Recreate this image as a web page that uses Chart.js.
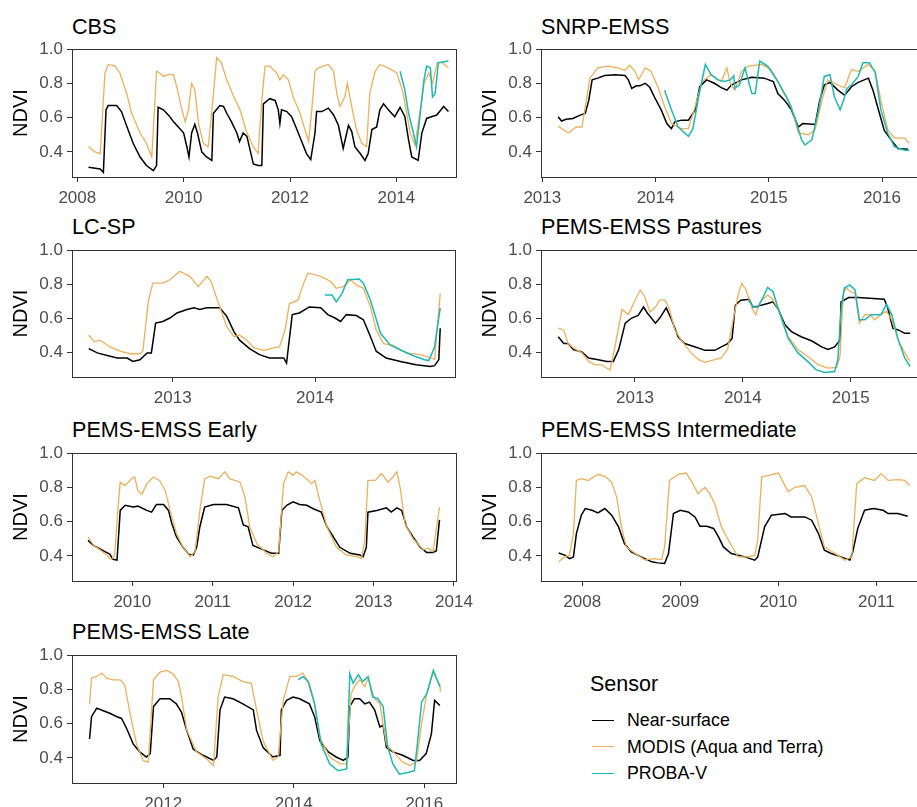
<!DOCTYPE html>
<html>
<head>
<meta charset="utf-8">
<script src="https://cdn.jsdelivr.net/npm/chart.js@4"></script>
<style>
  html, body { margin: 0; padding: 0; background: #fff; }
  #wrap { position: relative; width: 917px; height: 807px; overflow: hidden; font-family: "Liberation Sans", Arial, sans-serif; }
  canvas { position: absolute; }
  .ptitle { position: absolute; font-size: 21.6px; line-height: 21px; color: #000; white-space: nowrap; }
  .legend-title { position: absolute; left: 590px; top: 674px; font-size: 21.5px; line-height: 21px; }
  .legend-item { position: absolute; left: 592px; font-size: 17.8px; line-height: 18px; white-space: nowrap; }
  .legend-item span { display: inline-block; width: 22px; height: 0; border-top: 1.7px solid; vertical-align: middle; margin-right: 13px; position: relative; top: -1px; }
</style>
</head>
<body>
<div id="wrap">
  <div class="ptitle" style="left:72px;top:16px">CBS</div>
  <div class="ptitle" style="left:541px;top:16px">SNRP-EMSS</div>
  <div class="ptitle" style="left:72px;top:216px">LC-SP</div>
  <div class="ptitle" style="left:541px;top:216px">PEMS-EMSS Pastures</div>
  <div class="ptitle" style="left:72px;top:419px">PEMS-EMSS Early</div>
  <div class="ptitle" style="left:541px;top:419px">PEMS-EMSS Intermediate</div>
  <div class="ptitle" style="left:72px;top:621px">PEMS-EMSS Late</div>

  <canvas id="c1"></canvas>
  <canvas id="c2"></canvas>
  <canvas id="c3"></canvas>
  <canvas id="c4"></canvas>
  <canvas id="c5"></canvas>
  <canvas id="c6"></canvas>
  <canvas id="c7"></canvas>

  <div class="legend-title">Sensor</div>
  <div class="legend-item" style="top:711px"><span style="border-color:#000"></span>Near-surface</div>
  <div class="legend-item" style="top:737.5px"><span style="border-color:#EDB05C"></span>MODIS (Aqua and Terra)</div>
  <div class="legend-item" style="top:764px"><span style="border-color:#1DB9B3"></span>PROBA-V</div>
</div>

<script>
// series names and colours
const sensors = ['Near-surface', 'MODIS (Aqua and Terra)', 'PROBA-V'];
const sensorColors = ['#000000', '#EDB05C', '#1DB9B3'];
const yTicks = [0.4, 0.6, 0.8, 1.0];

// CBS  [year, NDVI]
const cbsNear = [[2008.21,0.31],[2008.43,0.30],[2008.49,0.28],[2008.54,0.645],[2008.58,0.67],[2008.74,0.67],[2008.83,0.635],[2008.93,0.55],[2009.05,0.45],[2009.18,0.37],[2009.30,0.32],[2009.43,0.29],[2009.49,0.32],[2009.52,0.66],[2009.62,0.645],[2009.68,0.625],[2009.74,0.605],[2009.81,0.575],[2009.90,0.545],[2010.00,0.51],[2010.06,0.43],[2010.10,0.37],[2010.15,0.51],[2010.21,0.56],[2010.26,0.51],[2010.34,0.40],[2010.43,0.37],[2010.53,0.35],[2010.56,0.625],[2010.68,0.67],[2010.75,0.665],[2010.81,0.625],[2010.90,0.575],[2011.00,0.51],[2011.05,0.46],[2011.12,0.51],[2011.19,0.49],[2011.25,0.41],[2011.31,0.33],[2011.40,0.32],[2011.47,0.32],[2011.50,0.68],[2011.62,0.71],[2011.72,0.70],[2011.78,0.645],[2011.81,0.565],[2011.84,0.645],[2011.94,0.635],[2012.03,0.605],[2012.13,0.53],[2012.22,0.46],[2012.31,0.39],[2012.39,0.355],[2012.47,0.51],[2012.50,0.635],[2012.60,0.635],[2012.72,0.655],[2012.82,0.615],[2012.91,0.555],[2013.00,0.42],[2013.10,0.555],[2013.16,0.52],[2013.22,0.43],[2013.32,0.39],[2013.41,0.35],[2013.47,0.39],[2013.54,0.53],[2013.63,0.545],[2013.69,0.645],[2013.76,0.68],[2013.85,0.645],[2013.97,0.605],[2014.07,0.66],[2014.16,0.605],[2014.23,0.47],[2014.29,0.37],[2014.41,0.35],[2014.48,0.51],[2014.57,0.595],[2014.66,0.605],[2014.76,0.615],[2014.89,0.665],[2014.98,0.635]];
const cbsModis = [[2008.21,0.43],[2008.33,0.40],[2008.43,0.39],[2008.52,0.86],[2008.58,0.91],[2008.71,0.90],[2008.80,0.86],[2008.93,0.74],[2009.02,0.625],[2009.08,0.585],[2009.18,0.51],[2009.30,0.45],[2009.40,0.37],[2009.49,0.87],[2009.55,0.86],[2009.62,0.84],[2009.71,0.85],[2009.81,0.85],[2009.87,0.78],[2009.96,0.655],[2010.03,0.575],[2010.09,0.645],[2010.15,0.80],[2010.21,0.76],[2010.28,0.565],[2010.37,0.45],[2010.46,0.43],[2010.50,0.545],[2010.56,0.74],[2010.62,0.95],[2010.71,0.92],[2010.81,0.82],[2010.93,0.73],[2011.06,0.645],[2011.18,0.52],[2011.31,0.43],[2011.40,0.39],[2011.47,0.70],[2011.53,0.90],[2011.62,0.90],[2011.75,0.86],[2011.81,0.82],[2011.87,0.85],[2011.97,0.82],[2012.06,0.72],[2012.19,0.625],[2012.28,0.53],[2012.35,0.46],[2012.41,0.645],[2012.47,0.87],[2012.53,0.89],[2012.63,0.90],[2012.72,0.91],[2012.82,0.87],[2012.88,0.74],[2012.94,0.665],[2013.03,0.72],[2013.08,0.80],[2013.16,0.665],[2013.25,0.53],[2013.35,0.45],[2013.44,0.43],[2013.50,0.74],[2013.60,0.87],[2013.69,0.91],[2013.85,0.89],[2014.01,0.86],[2014.13,0.74],[2014.26,0.51],[2014.35,0.44],[2014.45,0.645],[2014.52,0.80],[2014.61,0.86],[2014.68,0.80],[2014.77,0.92],[2014.86,0.92],[2014.98,0.89]];
const cbsProba = [[2014.07,0.87],[2014.16,0.76],[2014.23,0.625],[2014.32,0.51],[2014.38,0.43],[2014.45,0.625],[2014.52,0.82],[2014.57,0.90],[2014.64,0.89],[2014.68,0.72],[2014.73,0.74],[2014.79,0.92],[2014.98,0.93]];

// SNRP-EMSS
const snrpNear = [[2013.14,0.605],[2013.17,0.58],[2013.21,0.59],[2013.27,0.595],[2013.32,0.61],[2013.38,0.625],[2013.41,0.70],[2013.44,0.82],[2013.49,0.83],[2013.55,0.845],[2013.64,0.85],[2013.73,0.845],[2013.76,0.82],[2013.79,0.77],[2013.83,0.785],[2013.86,0.785],[2013.91,0.80],[2013.95,0.775],[2013.99,0.72],[2014.05,0.645],[2014.10,0.565],[2014.14,0.535],[2014.17,0.575],[2014.23,0.585],[2014.29,0.585],[2014.35,0.645],[2014.39,0.78],[2014.45,0.82],[2014.52,0.80],[2014.58,0.775],[2014.63,0.76],[2014.67,0.79],[2014.76,0.82],[2014.85,0.835],[2014.96,0.83],[2015.04,0.81],[2015.08,0.74],[2015.14,0.70],[2015.20,0.645],[2015.26,0.545],[2015.30,0.565],[2015.41,0.56],[2015.45,0.70],[2015.49,0.79],[2015.54,0.805],[2015.61,0.76],[2015.67,0.73],[2015.73,0.78],[2015.79,0.805],[2015.88,0.83],[2015.92,0.76],[2015.96,0.665],[2016.02,0.525],[2016.08,0.47],[2016.14,0.42],[2016.23,0.415]];
const snrpModis = [[2013.14,0.55],[2013.23,0.51],[2013.30,0.545],[2013.35,0.545],[2013.38,0.665],[2013.42,0.83],[2013.49,0.89],[2013.58,0.90],[2013.67,0.89],[2013.73,0.875],[2013.77,0.905],[2013.82,0.87],[2013.85,0.82],[2013.91,0.89],[2013.96,0.87],[2014.02,0.78],[2014.08,0.665],[2014.14,0.565],[2014.23,0.535],[2014.29,0.535],[2014.35,0.665],[2014.41,0.81],[2014.49,0.85],[2014.58,0.81],[2014.63,0.89],[2014.66,0.80],[2014.70,0.76],[2014.76,0.87],[2014.82,0.90],[2014.94,0.91],[2015.02,0.88],[2015.11,0.78],[2015.20,0.665],[2015.26,0.51],[2015.35,0.50],[2015.41,0.53],[2015.47,0.70],[2015.52,0.82],[2015.61,0.79],[2015.67,0.775],[2015.73,0.88],[2015.79,0.87],[2015.88,0.91],[2015.94,0.87],[2015.99,0.70],[2016.05,0.53],[2016.11,0.48],[2016.20,0.48],[2016.24,0.45]];
const snrpProba = [[2014.08,0.76],[2014.14,0.645],[2014.20,0.545],[2014.29,0.49],[2014.33,0.535],[2014.38,0.72],[2014.44,0.91],[2014.49,0.85],[2014.55,0.82],[2014.61,0.81],[2014.66,0.82],[2014.69,0.845],[2014.70,0.77],[2014.74,0.79],[2014.79,0.89],[2014.85,0.74],[2014.88,0.74],[2014.92,0.93],[2014.99,0.90],[2015.08,0.81],[2015.17,0.70],[2015.23,0.60],[2015.29,0.47],[2015.32,0.44],[2015.38,0.47],[2015.44,0.645],[2015.49,0.84],[2015.54,0.85],[2015.58,0.72],[2015.63,0.645],[2015.66,0.70],[2015.69,0.77],[2015.73,0.79],[2015.79,0.84],[2015.83,0.92],[2015.89,0.92],[2015.94,0.86],[2015.99,0.645],[2016.05,0.51],[2016.11,0.43],[2016.20,0.41],[2016.24,0.41]];

// LC-SP
const lcspNear = [[2012.41,0.42],[2012.47,0.395],[2012.54,0.38],[2012.61,0.365],[2012.68,0.365],[2012.72,0.345],[2012.77,0.355],[2012.82,0.395],[2012.85,0.395],[2012.88,0.57],[2012.93,0.58],[2012.98,0.60],[2013.03,0.63],[2013.10,0.65],[2013.15,0.66],[2013.19,0.65],[2013.24,0.66],[2013.33,0.66],[2013.38,0.61],[2013.43,0.52],[2013.47,0.47],[2013.54,0.42],[2013.61,0.385],[2013.68,0.365],[2013.78,0.365],[2013.80,0.335],[2013.84,0.62],[2013.89,0.63],[2013.96,0.665],[2014.04,0.66],[2014.09,0.62],[2014.14,0.60],[2014.18,0.58],[2014.22,0.62],[2014.29,0.615],[2014.34,0.59],[2014.39,0.49],[2014.43,0.405],[2014.50,0.365],[2014.60,0.345],[2014.71,0.325],[2014.81,0.315],[2014.84,0.32],[2014.87,0.355],[2014.88,0.54]];
const lcspModis = [[2012.41,0.50],[2012.45,0.46],[2012.49,0.47],[2012.56,0.43],[2012.63,0.405],[2012.70,0.39],[2012.77,0.39],[2012.79,0.405],[2012.83,0.705],[2012.86,0.805],[2012.93,0.805],[2012.98,0.825],[2013.05,0.875],[2013.12,0.845],[2013.18,0.785],[2013.24,0.845],[2013.27,0.815],[2013.33,0.665],[2013.38,0.55],[2013.43,0.49],[2013.47,0.50],[2013.52,0.47],[2013.57,0.425],[2013.64,0.41],[2013.71,0.425],[2013.75,0.43],[2013.79,0.53],[2013.82,0.685],[2013.88,0.705],[2013.92,0.805],[2013.95,0.865],[2014.04,0.845],[2014.11,0.815],[2014.15,0.775],[2014.20,0.785],[2014.25,0.825],[2014.29,0.795],[2014.34,0.775],[2014.39,0.665],[2014.43,0.53],[2014.48,0.45],[2014.55,0.44],[2014.64,0.395],[2014.74,0.385],[2014.82,0.365],[2014.84,0.355],[2014.88,0.745]];
const lcspProba = [[2014.07,0.735],[2014.12,0.735],[2014.15,0.695],[2014.19,0.745],[2014.23,0.825],[2014.31,0.83],[2014.34,0.805],[2014.39,0.705],[2014.46,0.51],[2014.53,0.44],[2014.62,0.405],[2014.70,0.375],[2014.77,0.355],[2014.80,0.35],[2014.84,0.43],[2014.88,0.66]];

// PEMS-EMSS Pastures
const pastNear = [[2012.29,0.49],[2012.34,0.45],[2012.38,0.45],[2012.43,0.415],[2012.51,0.40],[2012.57,0.365],[2012.66,0.355],[2012.74,0.345],[2012.80,0.345],[2012.85,0.415],[2012.91,0.57],[2012.97,0.60],[2013.03,0.615],[2013.08,0.665],[2013.12,0.625],[2013.19,0.57],[2013.23,0.60],[2013.29,0.66],[2013.34,0.59],[2013.40,0.49],[2013.46,0.45],[2013.56,0.43],[2013.65,0.41],[2013.74,0.41],[2013.80,0.43],[2013.86,0.45],[2013.90,0.48],[2013.93,0.675],[2013.98,0.705],[2014.06,0.71],[2014.09,0.665],[2014.14,0.67],[2014.23,0.685],[2014.28,0.695],[2014.33,0.65],[2014.39,0.56],[2014.45,0.52],[2014.54,0.49],[2014.64,0.465],[2014.73,0.43],[2014.79,0.415],[2014.85,0.43],[2014.90,0.47],[2014.91,0.695],[2014.98,0.72],[2015.07,0.72],[2015.31,0.71],[2015.34,0.665],[2015.39,0.54],[2015.44,0.53],[2015.50,0.51],[2015.55,0.51]];
const pastModis = [[2012.29,0.54],[2012.34,0.53],[2012.38,0.45],[2012.44,0.42],[2012.51,0.395],[2012.57,0.345],[2012.63,0.325],[2012.69,0.325],[2012.74,0.305],[2012.77,0.295],[2012.81,0.415],[2012.88,0.65],[2012.94,0.62],[2013.00,0.705],[2013.05,0.765],[2013.09,0.725],[2013.14,0.635],[2013.19,0.665],[2013.23,0.705],[2013.28,0.705],[2013.32,0.65],[2013.37,0.53],[2013.43,0.47],[2013.52,0.395],[2013.59,0.355],[2013.65,0.34],[2013.74,0.355],[2013.80,0.365],[2013.86,0.42],[2013.91,0.59],[2013.96,0.745],[2013.99,0.805],[2014.03,0.765],[2014.09,0.65],[2014.12,0.62],[2014.16,0.695],[2014.23,0.735],[2014.27,0.715],[2014.33,0.65],[2014.42,0.49],[2014.51,0.415],[2014.60,0.375],[2014.70,0.325],[2014.79,0.305],[2014.87,0.31],[2014.90,0.375],[2014.93,0.745],[2014.96,0.775],[2015.00,0.755],[2015.04,0.745],[2015.08,0.57],[2015.13,0.62],[2015.18,0.62],[2015.22,0.59],[2015.28,0.62],[2015.33,0.64],[2015.38,0.59],[2015.44,0.47],[2015.50,0.395],[2015.55,0.345]];
const pastProba = [[2014.05,0.705],[2014.10,0.665],[2014.14,0.665],[2014.19,0.725],[2014.23,0.78],[2014.28,0.755],[2014.33,0.65],[2014.42,0.48],[2014.51,0.395],[2014.60,0.345],[2014.68,0.295],[2014.76,0.28],[2014.85,0.285],[2014.88,0.355],[2014.91,0.65],[2014.94,0.775],[2014.99,0.795],[2015.04,0.765],[2015.08,0.59],[2015.13,0.59],[2015.19,0.62],[2015.28,0.62],[2015.33,0.68],[2015.38,0.62],[2015.44,0.47],[2015.50,0.365],[2015.55,0.315]];

// PEMS-EMSS Early
const earlyNear = [[2009.45,0.49],[2009.52,0.46],[2009.60,0.44],[2009.66,0.425],[2009.72,0.41],[2009.76,0.38],[2009.81,0.375],[2009.85,0.665],[2009.91,0.695],[2010.01,0.685],[2010.07,0.69],[2010.18,0.665],[2010.24,0.655],[2010.30,0.70],[2010.39,0.70],[2010.45,0.665],[2010.49,0.59],[2010.55,0.51],[2010.63,0.45],[2010.70,0.41],[2010.76,0.405],[2010.80,0.45],[2010.84,0.57],[2010.90,0.685],[2011.01,0.70],[2011.17,0.70],[2011.32,0.68],[2011.38,0.58],[2011.44,0.57],[2011.50,0.46],[2011.63,0.435],[2011.73,0.415],[2011.82,0.415],[2011.86,0.665],[2011.92,0.695],[2012.00,0.715],[2012.08,0.70],[2012.17,0.695],[2012.25,0.675],[2012.35,0.655],[2012.42,0.57],[2012.50,0.51],[2012.58,0.45],[2012.71,0.415],[2012.83,0.405],[2012.87,0.395],[2012.91,0.45],[2012.93,0.655],[2013.04,0.665],[2013.16,0.68],[2013.22,0.655],[2013.29,0.68],[2013.35,0.665],[2013.41,0.57],[2013.49,0.51],[2013.58,0.45],[2013.66,0.42],[2013.74,0.42],[2013.78,0.43],[2013.82,0.61]];
const earlyModis = [[2009.45,0.51],[2009.52,0.46],[2009.60,0.435],[2009.68,0.405],[2009.74,0.38],[2009.78,0.405],[2009.83,0.725],[2009.85,0.83],[2009.91,0.81],[2009.99,0.85],[2010.03,0.86],[2010.07,0.78],[2010.12,0.76],[2010.18,0.82],[2010.26,0.86],[2010.34,0.84],[2010.41,0.78],[2010.47,0.665],[2010.55,0.53],[2010.63,0.45],[2010.72,0.395],[2010.78,0.425],[2010.84,0.665],[2010.90,0.85],[2010.97,0.865],[2011.07,0.85],[2011.15,0.89],[2011.21,0.85],[2011.34,0.83],[2011.40,0.745],[2011.46,0.57],[2011.55,0.47],[2011.67,0.415],[2011.75,0.395],[2011.82,0.425],[2011.88,0.82],[2011.94,0.89],[2012.00,0.87],[2012.04,0.89],[2012.11,0.87],[2012.19,0.84],[2012.23,0.82],[2012.27,0.84],[2012.33,0.725],[2012.42,0.57],[2012.54,0.45],[2012.66,0.405],[2012.79,0.395],[2012.85,0.385],[2012.89,0.49],[2012.93,0.84],[2013.02,0.84],[2013.10,0.88],[2013.18,0.83],[2013.24,0.86],[2013.29,0.89],[2013.33,0.80],[2013.39,0.59],[2013.49,0.50],[2013.62,0.435],[2013.68,0.445],[2013.74,0.425],[2013.82,0.685]];

// PEMS-EMSS Intermediate
const interNear = [[2007.76,0.417],[2007.82,0.404],[2007.87,0.384],[2007.91,0.394],[2007.94,0.53],[2007.99,0.637],[2008.03,0.676],[2008.10,0.666],[2008.16,0.65],[2008.23,0.676],[2008.30,0.637],[2008.37,0.569],[2008.43,0.472],[2008.50,0.423],[2008.60,0.394],[2008.71,0.365],[2008.77,0.359],[2008.84,0.355],[2008.88,0.414],[2008.93,0.647],[2009.00,0.666],[2009.08,0.656],[2009.15,0.627],[2009.20,0.573],[2009.27,0.573],[2009.34,0.56],[2009.39,0.511],[2009.44,0.452],[2009.52,0.414],[2009.66,0.394],[2009.76,0.375],[2009.79,0.394],[2009.86,0.569],[2009.93,0.637],[2010.07,0.647],[2010.13,0.627],[2010.27,0.627],[2010.34,0.608],[2010.41,0.53],[2010.47,0.433],[2010.54,0.414],[2010.64,0.394],[2010.73,0.375],[2010.76,0.423],[2010.81,0.559],[2010.88,0.666],[2010.97,0.676],[2011.07,0.666],[2011.12,0.647],[2011.22,0.647],[2011.32,0.631]];
const interModis = [[2007.76,0.365],[2007.82,0.394],[2007.87,0.404],[2007.91,0.53],[2007.94,0.84],[2007.99,0.85],[2008.06,0.84],[2008.16,0.876],[2008.23,0.864],[2008.30,0.83],[2008.35,0.744],[2008.40,0.569],[2008.45,0.452],[2008.54,0.414],[2008.64,0.375],[2008.72,0.384],[2008.81,0.378],[2008.84,0.452],[2008.89,0.84],[2008.98,0.876],[2009.06,0.883],[2009.11,0.84],[2009.18,0.763],[2009.25,0.80],[2009.30,0.763],[2009.35,0.705],[2009.42,0.569],[2009.51,0.472],[2009.59,0.394],[2009.69,0.394],[2009.76,0.404],[2009.79,0.491],[2009.83,0.86],[2009.90,0.87],[2010.00,0.883],[2010.05,0.83],[2010.10,0.773],[2010.17,0.80],[2010.27,0.81],[2010.34,0.744],[2010.41,0.588],[2010.47,0.452],[2010.58,0.414],[2010.68,0.375],[2010.75,0.394],[2010.80,0.821],[2010.88,0.856],[2010.98,0.84],[2011.05,0.88],[2011.12,0.84],[2011.22,0.845],[2011.29,0.84],[2011.34,0.81]];

// PEMS-EMSS Late
const lateNear = [[2010.87,0.51],[2010.90,0.64],[2010.98,0.69],[2011.08,0.675],[2011.18,0.66],[2011.29,0.64],[2011.36,0.63],[2011.44,0.57],[2011.54,0.48],[2011.64,0.435],[2011.74,0.405],[2011.80,0.425],[2011.85,0.70],[2011.95,0.745],[2012.10,0.745],[2012.20,0.715],[2012.28,0.665],[2012.36,0.56],[2012.46,0.45],[2012.61,0.415],[2012.77,0.385],[2012.82,0.405],[2012.87,0.68],[2012.94,0.755],[2013.07,0.745],[2013.22,0.715],[2013.38,0.68],[2013.43,0.56],[2013.53,0.46],[2013.68,0.405],[2013.79,0.415],[2013.81,0.68],[2013.89,0.735],[2013.99,0.755],[2014.09,0.745],[2014.24,0.715],[2014.32,0.64],[2014.40,0.50],[2014.53,0.435],[2014.65,0.405],[2014.76,0.385],[2014.83,0.405],[2014.86,0.70],[2014.93,0.745],[2015.01,0.745],[2015.09,0.715],[2015.16,0.725],[2015.24,0.68],[2015.32,0.58],[2015.37,0.59],[2015.42,0.46],[2015.52,0.435],[2015.67,0.415],[2015.83,0.385],[2015.93,0.385],[2016.03,0.425],[2016.11,0.54],[2016.16,0.735],[2016.24,0.705]];
const lateModis = [[2010.87,0.715],[2010.90,0.865],[2010.98,0.875],[2011.06,0.895],[2011.13,0.865],[2011.23,0.855],[2011.34,0.855],[2011.41,0.825],[2011.49,0.66],[2011.59,0.48],[2011.69,0.385],[2011.77,0.375],[2011.85,0.855],[2011.95,0.90],[2012.05,0.91],[2012.15,0.89],[2012.23,0.845],[2012.28,0.755],[2012.36,0.56],[2012.51,0.435],[2012.66,0.395],[2012.77,0.355],[2012.84,0.755],[2012.92,0.885],[2013.07,0.875],[2013.22,0.845],[2013.35,0.835],[2013.43,0.68],[2013.53,0.50],[2013.68,0.385],[2013.76,0.405],[2013.84,0.735],[2013.94,0.875],[2014.04,0.875],[2014.14,0.895],[2014.24,0.835],[2014.32,0.715],[2014.40,0.52],[2014.55,0.405],[2014.71,0.365],[2014.81,0.365],[2014.88,0.775],[2014.93,0.815],[2015.01,0.855],[2015.09,0.815],[2015.14,0.865],[2015.24,0.745],[2015.32,0.715],[2015.42,0.48],[2015.55,0.425],[2015.67,0.375],[2015.78,0.355],[2015.88,0.375],[2015.96,0.60],[2016.04,0.775],[2016.14,0.90],[2016.24,0.825],[2016.25,0.785]];
const lateProba = [[2014.07,0.855],[2014.14,0.875],[2014.22,0.845],[2014.32,0.715],[2014.42,0.48],[2014.55,0.365],[2014.68,0.325],[2014.81,0.335],[2014.86,0.89],[2014.91,0.835],[2014.99,0.885],[2015.06,0.845],[2015.14,0.875],[2015.21,0.755],[2015.29,0.745],[2015.37,0.70],[2015.44,0.465],[2015.52,0.365],[2015.62,0.305],[2015.75,0.315],[2015.85,0.325],[2015.90,0.50],[2015.96,0.725],[2016.04,0.775],[2016.14,0.91],[2016.24,0.815]];

// x tick labels per panel
const cbsYears = [2008, 2010, 2012, 2014];
const snrpYears = [2013, 2014, 2015, 2016];
const lcspYears = [2013, 2014];
const pastYears = [2013, 2014, 2015];
const earlyYears = [2010, 2011, 2012, 2013, 2014];
const interYears = [2008, 2009, 2010, 2011];
const lateYears = [2012, 2014, 2016];

const AXIS_W = 72, PAD_T = 10, AXIS_H = 34, PAD_R = 30;
const tickFont = { family: '"Liberation Sans", Arial, sans-serif', size: 17 };

const boxPlugin = {
    id: 'box',
    afterDraw(chart) {
        const a = chart.chartArea, ctx = chart.ctx;
        ctx.save();
        ctx.strokeStyle = '#333';
        ctx.lineWidth = 1;
        ctx.strokeRect(Math.round(a.left) + 0.5, Math.round(a.top) + 0.5,
            Math.round(a.right - a.left), Math.round(a.bottom - a.top));
        ctx.restore();
    }
};

function toPoints(arr) {
    return arr.map(function (p) { return { x: p[0], y: p[1] }; });
}

function makePanel(id, box, xMin, xMax, years, series) {
    const canvas = document.getElementById(id);
    const w = (box.r - box.l) + AXIS_W + PAD_R;
    const h = (box.b - box.t) + PAD_T + AXIS_H;
    canvas.width = w;
    canvas.height = h;
    canvas.style.left = (box.l - AXIS_W) + 'px';
    canvas.style.top = (box.t - PAD_T) + 'px';

    // draw order: PROBA-V on top, then MODIS, then near-surface
    const datasets = [];
    for (let i = series.length - 1; i >= 0; i--) {
        if (!series[i]) continue;
        datasets.push({
            label: sensors[i],
            data: toPoints(series[i]),
            borderColor: sensorColors[i],
            borderWidth: i === 1 ? 1.3 : 1.5,
            showLine: true,
            pointRadius: 0,
            tension: 0
        });
    }

    return new Chart(canvas.getContext('2d'), {
        type: 'scatter',
        data: { datasets: datasets },
        plugins: [boxPlugin],
        options: {
            responsive: false,
            animation: false,
            devicePixelRatio: 1,
            layout: { padding: { top: PAD_T, right: PAD_R, left: 0, bottom: 0 } },
            plugins: { legend: { display: false }, tooltip: { enabled: false } },
            scales: {
                x: {
                    type: 'linear',
                    min: xMin,
                    max: xMax,
                    afterBuildTicks: function (s) { s.ticks = years.map(function (v) { return { value: v }; }); },
                    afterFit: function (s) { s.height = AXIS_H; s.paddingLeft = 0; s.paddingRight = 0; },
                    grid: { drawOnChartArea: false, drawTicks: true, tickLength: 5, color: '#333' },
                    border: { display: true, color: '#333' },
                    ticks: {
                        autoSkip: false, maxRotation: 0, padding: 6,
                        color: '#4D4D4D', font: tickFont,
                        callback: function (v) { return String(v); }
                    }
                },
                y: {
                    min: 0.2533,
                    max: 1.0,
                    afterBuildTicks: function (s) { s.ticks = yTicks.map(function (v) { return { value: v }; }); },
                    afterFit: function (s) { s.width = AXIS_W; s.paddingTop = 0; s.paddingBottom = 0; },
                    grid: { drawOnChartArea: false, drawTicks: true, tickLength: 5, color: '#333' },
                    border: { display: true, color: '#333' },
                    title: {
                        display: true, text: 'NDVI', color: '#000',
                        font: { family: '"Liberation Sans", Arial, sans-serif', size: 20 },
                        padding: { top: 9, bottom: 0 }
                    },
                    ticks: {
                        padding: 4, color: '#4D4D4D', font: tickFont,
                        callback: function (v) { return Number(v).toFixed(1); }
                    }
                }
            }
        }
    });
}

makePanel('c1', { l: 72, t: 49, r: 456, b: 177 }, 2007.90, 2015.122, cbsYears, [cbsNear, cbsModis, cbsProba]);
makePanel('c2', { l: 541, t: 49, r: 922, b: 177 }, 2012.9885, 2016.353, snrpYears, [snrpNear, snrpModis, snrpProba]);
makePanel('c3', { l: 72, t: 250, r: 455, b: 377 }, 2012.2923, 2014.9838, lcspYears, [lcspNear, lcspModis, lcspProba]);
makePanel('c4', { l: 541, t: 250, r: 922, b: 377 }, 2012.1296, 2015.66, pastYears, [pastNear, pastModis, pastProba]);
makePanel('c5', { l: 72, t: 453, r: 456, b: 581 }, 2009.2503, 2014.0249, earlyYears, [earlyNear, earlyModis, null]);
makePanel('c6', { l: 541, t: 453, r: 922, b: 581 }, 2007.579, 2011.466, interYears, [interNear, interModis, null]);
makePanel('c7', { l: 72, t: 655, r: 456, b: 783 }, 2010.6008, 2016.4874, lateYears, [lateNear, lateModis, lateProba]);
</script>
</body>
</html>
